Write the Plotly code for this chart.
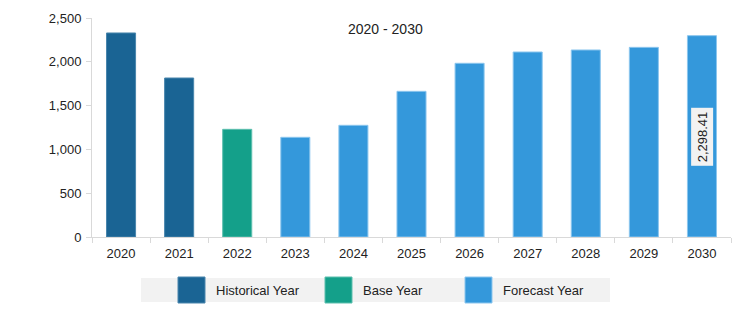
import plotly.graph_objects as go

# Market values by year
years = ["2020", "2021", "2022", "2023", "2024", "2025", "2026", "2027", "2028", "2029", "2030"]
values = [2329, 1815, 1229, 1138, 1275, 1663, 1983, 2112, 2135, 2165, 2298.41]
periods = ["Historical Year", "Historical Year", "Base Year",
           "Forecast Year", "Forecast Year", "Forecast Year", "Forecast Year",
           "Forecast Year", "Forecast Year", "Forecast Year", "Forecast Year"]

legend_names = ["Historical Year", "Base Year", "Forecast Year"]
fill_colors = {"Historical Year": "#1a6494", "Base Year": "#14a08a", "Forecast Year": "#3498db"}
edge_colors = {"Historical Year": "#4a86ad", "Base Year": "#5cbfae", "Forecast Year": "#8cc6ee"}

FONT = "Liberation Sans"

fig = go.Figure(go.Bar(
    x=years, y=values, width=0.5,
    marker=dict(color=[fill_colors[p] for p in periods],
                line=dict(color=[edge_colors[p] for p in periods], width=1)),
    showlegend=False, hoverinfo="x+y",
))

# Value label on the last bar
last_idx, last_val = len(years) - 1, values[-1]
fig.add_annotation(
    x=last_idx, y=last_val / 2, text=f"{last_val:,.2f}", textangle=-90,
    showarrow=False, bgcolor="#f2f2f2", font=dict(family=FONT, size=13, color="#222222"),
    borderpad=3,
)

# Layout helpers: pixel -> paper coordinates
L, W = 92.0, 639.0
T, H = 237.0, 219.0
def px(x):
    return (x - L) / W
def py(y):
    return (T - y) / H

# Chart title
fig.add_annotation(
    x=px(385), y=py(29), xref="paper", yref="paper", text="2020 - 2030",
    xanchor="center", yanchor="middle",
    showarrow=False, font=dict(family=FONT, size=14, color="#222222"),
)

# Custom legend strip below the axis
fig.add_shape(type="rect", xref="paper", yref="paper",
              x0=px(141), x1=px(610), y0=py(302), y1=py(278),
              fillcolor="#f2f2f2", line=dict(width=0), layer="below")
swatch_x = [178, 325, 465]
for name, sx in zip(legend_names, swatch_x):
    fig.add_shape(type="rect", xref="paper", yref="paper",
                  x0=px(sx), x1=px(sx + 27), y0=py(303), y1=py(277),
                  fillcolor=fill_colors[name], line=dict(color=edge_colors[name], width=1))
    fig.add_annotation(x=px(sx + 36), y=py(290), xref="paper", yref="paper",
                       xanchor="left", yanchor="middle", showarrow=False,
                       text=name, font=dict(family=FONT, size=13, color="#222222"))

fig.update_layout(
    width=750, height=324,
    margin=dict(l=92, r=19, t=18, b=87),
    paper_bgcolor="white", plot_bgcolor="white",
    font=dict(family=FONT, size=13, color="#222222"),
    showlegend=False,
)
fig.update_xaxes(
    type="category", range=[-0.5, len(years) - 0.5],
    showline=True, linecolor="#d9d9d9", linewidth=1,
    ticks="outside", tickson="boundaries", ticklen=5, tickcolor="#d9d9d9",
    ticklabelstandoff=4,
    showgrid=False, tickangle=0, tickfont=dict(family=FONT, size=13, color="#222222"),
)
fig.update_yaxes(
    range=[0, 2500], tickvals=[0, 500, 1000, 1500, 2000, 2500],
    tickformat=",d", showline=True, linecolor="#d9d9d9", linewidth=1,
    ticks="outside", ticklen=5, tickcolor="#d9d9d9", ticklabelstandoff=2,
    showgrid=False, zeroline=False, tickfont=dict(family=FONT, size=13, color="#222222"),
)

fig.write_html("out.html")
